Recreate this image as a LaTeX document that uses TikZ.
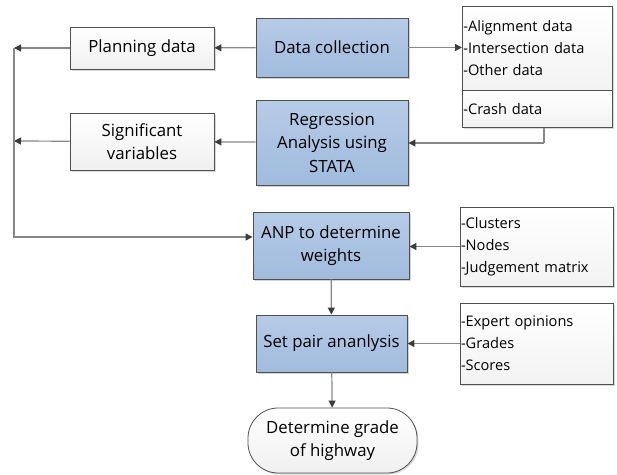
\documentclass[tikz,border=0pt]{standalone}
\usepackage{fontspec}
\setmainfont{Open Sans}
\usetikzlibrary{arrows.meta,shadows}
\definecolor{bluefill}{RGB}{160,187,221}
\definecolor{bluetop}{RGB}{182,203,231}
\definecolor{boxline}{RGB}{80,80,80}
\definecolor{conn}{RGB}{135,135,135}
\definecolor{tip}{RGB}{60,60,60}
\begin{document}
\begin{tikzpicture}[x=1pt,y=-1pt,
  font=\fontsize{16.8}{23.5}\selectfont,
  bluebox/.style={draw=boxline,line width=0.9pt,top color=bluetop,bottom color=bluefill,
    align=center,inner sep=2pt,drop shadow={shadow xshift=1.5pt,shadow yshift=-1.5pt,opacity=0.35}},
  whitebox/.style={draw=boxline,line width=0.8pt,top color=white,bottom color=black!6,
    align=center,inner sep=2pt,drop shadow={shadow xshift=1.5pt,shadow yshift=-1.5pt,opacity=0.3}},
  listbox/.style={draw=boxline,line width=0.8pt,top color=white,bottom color=black!5,
    align=left,inner sep=1pt,text width=#1,font=\fontsize{14.6}{22}\selectfont,
    drop shadow={shadow xshift=1.5pt,shadow yshift=-1.5pt,opacity=0.3}},
  conn/.style={draw=conn,line width=1.2pt,-{Triangle[length=7pt,width=7pt,fill=tip,color=tip]}},
  plainconn/.style={draw=conn,line width=1.2pt}
]
\useasboundingbox (0,0) rectangle (617,474);

\node[whitebox,minimum width=144pt,minimum height=42pt] (plan) at (142,48) {Planning data};
\node[bluebox,minimum width=152pt,minimum height=59pt] (dc) at (332,47.5) {Data collection};
\node[listbox=148pt,minimum height=84pt,anchor=north west] (rba) at (462,6)
  {-Alignment data\\-Intersection data\\-Other data};
\node[listbox=148pt,minimum height=37pt,anchor=north west] (rbb) at (462,90) {-Crash data};

\node[bluebox,minimum width=152pt,minimum height=85pt] (reg) at (332,142.5) {Regression\\Analysis using\\STATA};
\node[whitebox,minimum width=144pt,minimum height=57pt] (sig) at (142,141.5) {Significant\\variables};

\node[bluebox,minimum width=156pt,minimum height=67pt] (anp) at (331,245.5) {ANP to determine\\weights};
\node[listbox=151pt,minimum height=79pt] (rbc) at (536.5,246.5) {-Clusters\\-Nodes\\-Judgement matrix};

\node[bluebox,minimum width=151pt,minimum height=57pt] (sp) at (331.5,343.5) {Set pair ananlysis};
\node[listbox=151pt,minimum height=81pt] (rbd) at (536.5,343.5) {-Expert opinions\\-Grades\\-Scores};

\node[whitebox,minimum width=169pt,minimum height=65pt,rounded corners=30pt] (end) at (332.5,440.5) {Determine grade\\of highway};

\coordinate (L1) at (14,48);
\coordinate (L2) at (14,141);
\coordinate (L3) at (14,237);
\coordinate (C1) at (544,143);

\draw[conn] (dc) -- (plan);
\draw[conn] (dc.east) -- (rba.west|-dc.east);
\draw[conn] (plan) -- (L1);
\draw[conn] (reg) -- (sig);
\draw[conn] (sig) -- (L2);
\draw[plainconn] (rbb.south-|C1) -- (C1);
\draw[conn] (C1) -- (reg.east|-C1);
\draw[conn] (L1) -- (L3) -- (anp.west|-L3);
\draw[conn] (rbc.west) -- (anp.east|-rbc.west);
\draw[conn] (anp) -- (sp);
\draw[conn] (rbd.west) -- (sp.east|-rbd.west);
\draw[conn] (sp) -- (end);
\end{tikzpicture}
\end{document}
